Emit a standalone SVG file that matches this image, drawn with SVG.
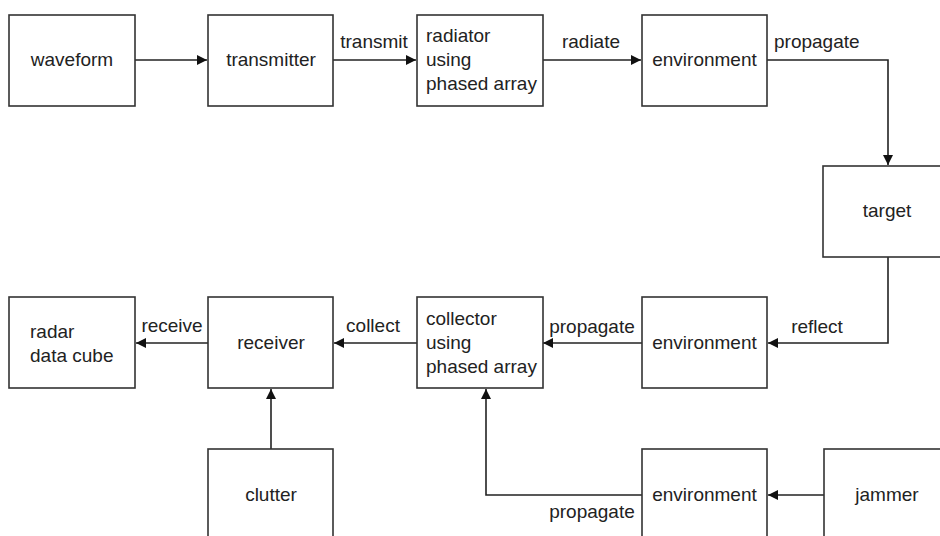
<svg xmlns="http://www.w3.org/2000/svg" width="940" height="536" viewBox="0 0 940 536">
<style>
.box{fill:#fff;stroke:#333;stroke-width:1.6}
.t{font-family:"Liberation Sans",Arial,sans-serif;font-size:19px;fill:#222}
.c{text-anchor:middle}
.ln{fill:none;stroke:#222;stroke-width:1.6}
</style>
<defs>
<marker id="ah" viewBox="0 0 10 10" refX="10" refY="5" markerWidth="10" markerHeight="10" markerUnits="userSpaceOnUse" orient="auto">
<path d="M0,0 L10,5 L0,10 Z" fill="#111"/>
</marker>
</defs>
<rect width="940" height="536" fill="#fff"/>
<g id="connectors">
<path class="ln" d="M135,60 H207" marker-end="url(#ah)"/>
<path class="ln" d="M333,60 H416" marker-end="url(#ah)"/>
<path class="ln" d="M543,60 H641" marker-end="url(#ah)"/>
<path class="ln" d="M767,60 H888 V165" marker-end="url(#ah)"/>
<path class="ln" d="M888,257 V343 H768" marker-end="url(#ah)"/>
<path class="ln" d="M642,343 H543" marker-end="url(#ah)"/>
<path class="ln" d="M417,343 H334" marker-end="url(#ah)"/>
<path class="ln" d="M208,343 H136" marker-end="url(#ah)"/>
<path class="ln" d="M271,449 V389" marker-end="url(#ah)"/>
<path class="ln" d="M824,495 H768" marker-end="url(#ah)"/>
<path class="ln" d="M642,495 H486 V389" marker-end="url(#ah)"/>
<text class="t c" x="374" y="48">transmit</text>
<text class="t c" x="591" y="48">radiate</text>
<text class="t" x="774" y="48">propagate</text>
<text class="t c" x="817" y="333">reflect</text>
<text class="t c" x="592" y="333">propagate</text>
<text class="t c" x="373" y="332">collect</text>
<text class="t c" x="172" y="332">receive</text>
<text class="t c" x="592" y="518">propagate</text>
</g>
<g id="waveform">
<rect class="box" x="9" y="15" width="126" height="91"/>
<text class="t c" x="72" y="66">waveform</text>
</g>
<g id="transmitter">
<rect class="box" x="208" y="15" width="125" height="91"/>
<text class="t c" x="271" y="66">transmitter</text>
</g>
<g id="radiator">
<rect class="box" x="417" y="15" width="126" height="91"/>
<text class="t" x="426" y="42">radiator</text>
<text class="t" x="426" y="66">using</text>
<text class="t" x="426" y="90">phased array</text>
</g>
<g id="environment1">
<rect class="box" x="642" y="15" width="125" height="91"/>
<text class="t c" x="704.5" y="66">environment</text>
</g>
<g id="target">
<rect class="box" x="823" y="166" width="128" height="91"/>
<text class="t c" x="887" y="217">target</text>
</g>
<g id="radar-data-cube">
<rect class="box" x="9" y="297" width="126" height="91"/>
<text class="t" x="30" y="338">radar</text>
<text class="t" x="30" y="362">data cube</text>
</g>
<g id="receiver">
<rect class="box" x="208" y="297" width="125" height="91"/>
<text class="t c" x="271" y="349">receiver</text>
</g>
<g id="collector">
<rect class="box" x="417" y="297" width="126" height="91"/>
<text class="t" x="426" y="325">collector</text>
<text class="t" x="426" y="349">using</text>
<text class="t" x="426" y="373">phased array</text>
</g>
<g id="environment2">
<rect class="box" x="642" y="297" width="125" height="91"/>
<text class="t c" x="704.5" y="349">environment</text>
</g>
<g id="clutter">
<rect class="box" x="208" y="449" width="125" height="100"/>
<text class="t c" x="271" y="501">clutter</text>
</g>
<g id="environment3">
<rect class="box" x="642" y="449" width="125" height="100"/>
<text class="t c" x="704.5" y="501">environment</text>
</g>
<g id="jammer">
<rect class="box" x="824" y="449" width="128" height="100"/>
<text class="t c" x="887" y="501">jammer</text>
</g>
</svg>
